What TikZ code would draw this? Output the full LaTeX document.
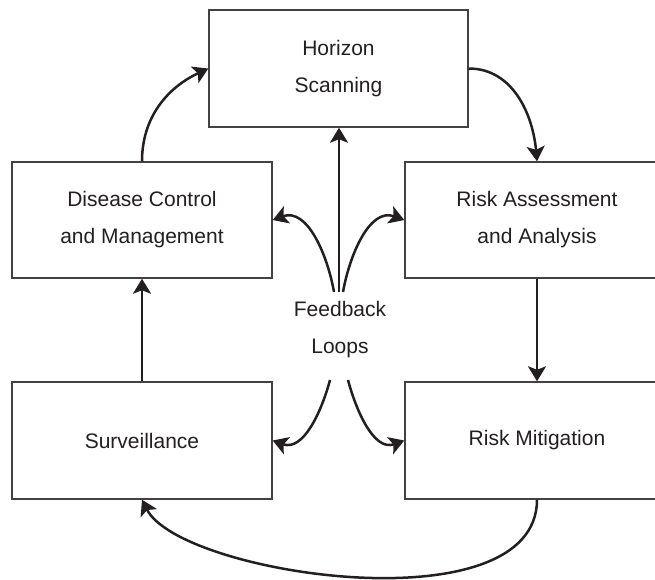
\documentclass[tikz,border=0pt]{standalone}
\usepackage{fontspec}
\setmainfont{Liberation Sans}
\usetikzlibrary{arrows.meta}
\definecolor{ink}{HTML}{231F20}
\tikzset{
  box/.style={draw=ink!85, line width=1.4pt, rectangle, inner sep=0pt, align=center,
    text=ink, font=\fontsize{21}{37}\selectfont},
  lbl/.style={inner sep=0pt, align=center, text=ink, font=\fontsize{21}{37}\selectfont},
  conn/.style={draw=ink, line width=2.5pt, -{Stealth[length=15pt,width=18pt,inset=3.5pt]}},
}
\begin{document}
\begin{tikzpicture}[x=1pt,y=-1pt]
\useasboundingbox (0,0) rectangle (655,579);
\node[box, minimum width=259pt, minimum height=117pt] (H) at (338.5,68.5) {Horizon\\Scanning};
\node[box, minimum width=260pt, minimum height=116pt] (D) at (142,220) {Disease Control\\and Management};
\node[box, minimum width=264pt, minimum height=116pt] (R) at (537,220) {Risk Assessment\\and Analysis};
\node[box, minimum width=260pt, minimum height=117pt] (S) at (142,440.5) {Surveillance};
\node[box, minimum width=264pt, minimum height=117pt] (M) at (537,440.5) {Risk Mitigation};
\node[lbl] (F) at (340,330) {Feedback\\Loops};
\coordinate (fa) at (334,292);
\coordinate (fb) at (339,292);
\coordinate (fc) at (343,292);
\coordinate (fd) at (330,380);
\coordinate (fe) at (348,380);
% outer cycle
\draw[conn] (D.north) to[out=90,in=205] (H.west);
\draw[conn] (H.east) to[out=0,in=95] (R.north);
\draw[conn] (R.south) -- (M.north);
\draw[conn] (M.south) .. controls (537,628) and (180,575) .. (S.south);
\draw[conn] (S.north) -- (D.south);
% feedback loops
\draw[conn] (fb) -- (fb |- H.south);
\draw[conn] (fa) to[out=100,in=20] (D.east);
\draw[conn] (fc) to[out=80,in=160] (R.west);
\draw[conn] (fd) to[out=-105,in=-20] (S.east);
\draw[conn] (fe) to[out=-75,in=200] (M.west);
\end{tikzpicture}
\end{document}
